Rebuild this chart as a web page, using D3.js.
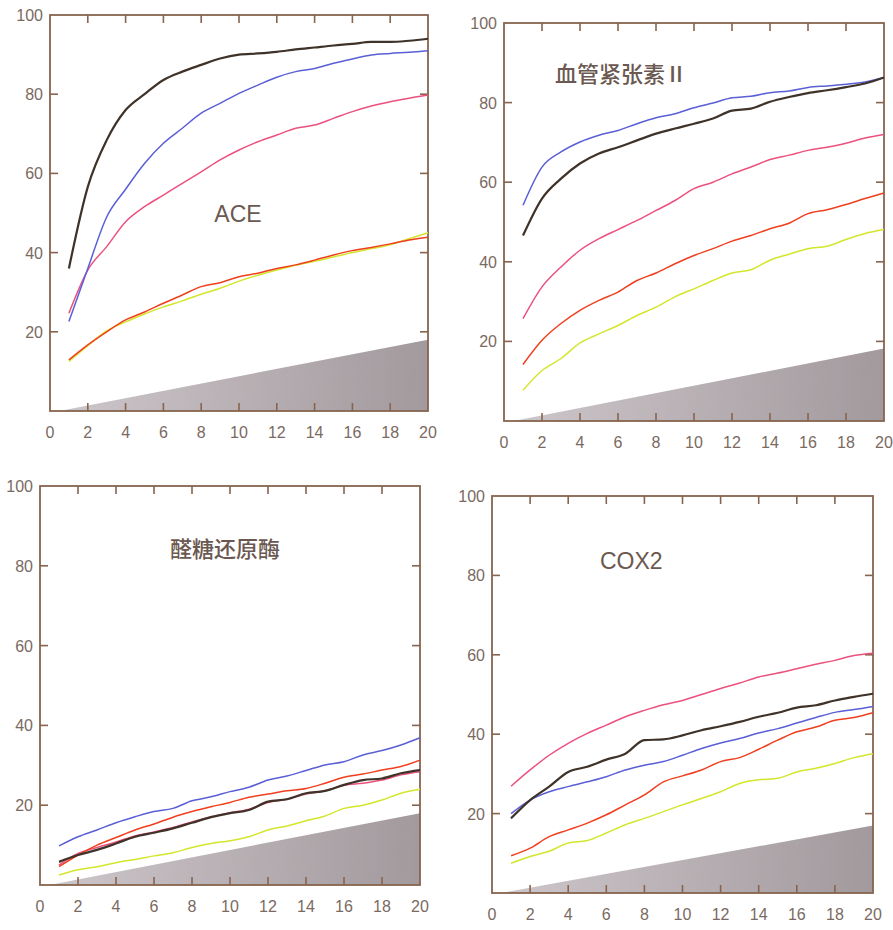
<!DOCTYPE html>
<html>
<head>
  <meta charset="utf-8">
  <script src="https://cdn.jsdelivr.net/npm/d3@7/dist/d3.min.js"></script>
  <style>
    body { margin: 0; background: #fff; }
    .tick-label { font-family: "Liberation Sans", Arial, sans-serif; font-size: 16px; fill: #7a6a62; }
    .panel-title { fill: #6b5850; }
  </style>
</head>
<body>
<script>
// x positions shared by every series
var days = [1,2,3,4,5,6,7,8,9,10,11,12,13,14,15,16,17,18,19,20];
var xTicks = [0,2,4,6,8,10,12,14,16,18,20];
var yTicks = [20,40,60,80,100];

// ACE
var aceBlack  = [36,56.6,68.4,76,80,83.6,85.7,87.4,89,90,90.3,90.7,91.3,91.8,92.3,92.7,93.2,93.2,93.5,94];
var aceBlue   = [22.6,36,49,56,62.5,67.6,71.4,75.2,77.7,80.2,82.3,84.3,85.7,86.5,87.8,88.9,89.9,90.3,90.6,91];
var acePink   = [24.7,35.6,41.5,47.8,51.6,54.5,57.5,60.4,63.4,65.9,68,69.7,71.4,72.2,73.9,75.6,77,78.1,79,79.8];
var aceRed    = [12.9,16.7,20,23,25,27.2,29.3,31.4,32.4,33.9,34.8,36,36.9,38.1,39.4,40.5,41.3,42.2,43.2,43.9];
var aceYellow = [12.5,16.5,20.2,22.5,24.5,26.3,27.8,29.5,31,32.8,34.3,35.6,36.8,37.8,38.9,40,41,42,43.5,45];

// 血管紧张素II
var angBlue   = [54.2,63.8,67.6,70.1,71.8,73,74.7,76.2,77.2,78.7,79.9,81.2,81.6,82.5,82.9,83.8,84.2,84.6,85.2,86.3];
var angBlack  = [46.6,55.9,60.9,64.7,67.2,68.8,70.5,72.2,73.5,74.7,76,78,78.5,80.2,81.4,82.4,83.1,83.9,84.8,86.3];
var angPink   = [25.7,33.7,38.7,42.9,45.8,48.1,50.4,52.9,55.4,58.4,60,62.1,63.8,65.7,66.8,68,68.8,69.8,71.1,72];
var angRed    = [14.2,20.3,24.5,27.8,30.3,32.4,35.3,37.2,39.5,41.6,43.3,45.2,46.6,48.3,49.7,52.1,53.1,54.4,55.9,57.3];
var angYellow = [7.7,12.7,15.7,19.6,21.9,24,26.5,28.6,31.2,33.2,35.3,37.2,38,40.4,41.9,43.3,43.9,45.6,47.1,48.1];

// 醛糖还原酶
var arBlue   = [9.8,12.1,13.8,15.6,17.1,18.4,19.2,21.1,22.1,23.4,24.5,26.3,27.3,28.7,30.1,30.9,32.6,33.7,35.1,36.9];
var arRed    = [4.6,7.5,10,11.9,13.8,15.3,17,18.4,19.6,20.7,22,22.8,23.6,24.2,25.5,27,27.8,28.8,29.7,31.3];
var arPink   = [5,7.9,9.4,10.8,12.3,13.3,14.4,15.8,17.1,18.1,19,20.7,21.5,22.8,23.6,25,25.5,26.3,27.6,28.4];
var arBlack  = [5.8,7.5,8.8,10.4,12.1,13.1,14.2,15.6,17,18,18.8,20.9,21.5,23,23.6,25.1,26.3,26.7,28,28.8];
var arYellow = [2.5,3.8,4.6,5.6,6.4,7.3,8.1,9.4,10.4,11.1,12.1,13.8,14.8,16.1,17.3,19.2,20,21.3,23,24];

// COX2
var coxPink   = [26.9,31,34.7,37.7,40.2,42.3,44.4,46,47.4,48.5,50,51.5,52.9,54.4,55.4,56.5,57.6,58.6,59.8,60.4];
var coxBlack  = [18.8,23.4,26.8,30.5,31.8,33.6,35.1,38.5,38.7,39.7,41,42,43.1,44.4,45.4,46.7,47.3,48.5,49.4,50.2];
var coxBlue   = [20,23.4,25.5,26.8,28,29.3,31,32.2,33.1,34.7,36.4,37.8,38.9,40.3,41.4,42.8,44.2,45.5,46.2,47];
var coxRed    = [9.4,11.3,14.2,15.9,17.6,19.7,22.2,24.7,28,29.5,31,33.1,34.1,36.2,38.5,40.6,41.8,43.5,44.2,45.4];
var coxYellow = [7.5,9.2,10.5,12.6,13.2,15.1,17.2,18.8,20.5,22.2,23.8,25.5,27.6,28.5,28.9,30.5,31.4,32.6,34.1,35.1];

// grey wedge: [x, y] corners of the sloping top edge
var aceWedge = [[0.5,0],[20,18]];
var angWedge = [[0.5,0],[20,18.2]];
var arWedge  = [[0.5,0],[20,18]];
var coxWedge = [[0.5,0],[20,17]];

var colors = { black: "#3f3229", blue: "#5a5fd6", pink: "#ec517e", red: "#f03f1e", yellow: "#d3e62c" };

var panels = [
  { title: "ACE", cjk: false, box: [50, 428, 15, 411], titleAt: [238, 222, "middle"], wedge: aceWedge,
    series: [["yellow", aceYellow], ["red", aceRed], ["pink", acePink], ["blue", aceBlue], ["black", aceBlack]] },
  { title: "血管紧张素Ⅱ", cjk: true, box: [504, 884, 23, 421], titleAt: [555, 82, "start"], wedge: angWedge,
    series: [["yellow", angYellow], ["red", angRed], ["pink", angPink], ["blue", angBlue], ["black", angBlack]] },
  { title: "醛糖还原酶", cjk: true, box: [40, 420, 486, 885], titleAt: [170, 557, "start"], wedge: arWedge,
    series: [["yellow", arYellow], ["pink", arPink], ["red", arRed], ["black", arBlack], ["blue", arBlue]] },
  { title: "COX2", cjk: false, box: [492, 873, 496, 893], titleAt: [600, 569, "start"], wedge: coxWedge,
    series: [["yellow", coxYellow], ["red", coxRed], ["blue", coxBlue], ["black", coxBlack], ["pink", coxPink]] }
];

var svg = d3.select("body").append("svg").attr("width", 893).attr("height", 930);

var defs = svg.append("defs");
var grad = defs.append("linearGradient").attr("id", "wedgeFill").attr("x1", 0).attr("x2", 1).attr("y1", 0).attr("y2", 0);
grad.append("stop").attr("offset", "0%").attr("stop-color", "#d2cbcf");
grad.append("stop").attr("offset", "100%").attr("stop-color", "#a39a9e");

// grainy look of the printed grey
var grain = defs.append("filter").attr("id", "grain").attr("x", 0).attr("y", 0).attr("width", 1).attr("height", 1);
grain.append("feTurbulence").attr("type", "fractalNoise").attr("baseFrequency", 0.9).attr("numOctaves", 2).attr("result", "noise");
grain.append("feColorMatrix").attr("in", "noise").attr("type", "matrix")
  .attr("values", "0 0 0 0 0.35  0 0 0 0 0.32  0 0 0 0 0.33  0 0 0 0.22 0").attr("result", "dots");
grain.append("feComposite").attr("in", "dots").attr("in2", "SourceGraphic").attr("operator", "in").attr("result", "dotsIn");
var merge = grain.append("feMerge");
merge.append("feMergeNode").attr("in", "SourceGraphic");
merge.append("feMergeNode").attr("in", "dotsIn");

var axisColor = "#87644f";

panels.forEach(function (p) {
  var x = d3.scaleLinear().domain([0, 20]).range([p.box[0], p.box[1]]);
  var y = d3.scaleLinear().domain([0, 100]).range([p.box[3], p.box[2]]);
  var g = svg.append("g");

  // wedge
  var w = p.wedge;
  var wedgePts = [[w[0][0], w[0][1]], [w[1][0], w[1][1]], [w[1][0], 0]];
  g.append("path")
    .attr("d", d3.line().x(function (d) { return x(d[0]); }).y(function (d) { return y(d[1]); })(wedgePts) + "Z")
    .attr("fill", "url(#wedgeFill)")
    .attr("filter", "url(#grain)");

  // frame
  g.append("rect")
    .attr("x", x(0)).attr("y", y(100))
    .attr("width", x(20) - x(0)).attr("height", y(0) - y(100))
    .attr("fill", "none").attr("stroke", axisColor).attr("stroke-width", 1.8);

  // inward ticks on all four sides
  var tk = 8;
  xTicks.slice(1, -1).forEach(function (t) {
    g.append("line").attr("x1", x(t)).attr("x2", x(t)).attr("y1", y(0)).attr("y2", y(0) - tk)
      .attr("stroke", axisColor).attr("stroke-width", 1.6);
    g.append("line").attr("x1", x(t)).attr("x2", x(t)).attr("y1", y(100)).attr("y2", y(100) + tk)
      .attr("stroke", axisColor).attr("stroke-width", 1.6);
  });
  yTicks.slice(0, -1).forEach(function (t) {
    g.append("line").attr("x1", x(0)).attr("x2", x(0) + tk).attr("y1", y(t)).attr("y2", y(t))
      .attr("stroke", axisColor).attr("stroke-width", 1.6);
    g.append("line").attr("x1", x(20)).attr("x2", x(20) - tk).attr("y1", y(t)).attr("y2", y(t))
      .attr("stroke", axisColor).attr("stroke-width", 1.6);
  });

  // tick labels
  g.selectAll(".xl").data(xTicks).enter().append("text")
    .attr("class", "tick-label")
    .attr("x", function (d) { return x(d); })
    .attr("y", y(0) + 27)
    .attr("text-anchor", "middle")
    .text(function (d) { return d; });
  g.selectAll(".yl").data(yTicks).enter().append("text")
    .attr("class", "tick-label")
    .attr("x", x(0) - 7)
    .attr("y", function (d) { return y(d) + 6; })
    .attr("text-anchor", "end")
    .text(function (d) { return d; });

  // series
  var line = d3.line().curve(d3.curveMonotoneX)
    .x(function (d, i) { return x(days[i]); }).y(function (d) { return y(d); });
  p.series.forEach(function (s) {
    g.append("path")
      .attr("d", line(s[1]))
      .attr("fill", "none")
      .attr("stroke", colors[s[0]])
      .attr("stroke-width", s[0] === "black" ? 2.2 : 1.5)
      .attr("stroke-linejoin", "round");
  });

  // title
  g.append("text")
    .attr("class", "panel-title")
    .attr("x", p.titleAt[0]).attr("y", p.titleAt[1])
    .attr("text-anchor", p.titleAt[2])
    .style("font-family", p.cjk ? "'Noto Sans CJK SC', sans-serif" : "'Liberation Sans', Arial, sans-serif")
    .style("font-size", p.cjk ? "22px" : "23px")
    .style("font-weight", p.cjk ? 500 : 400)
    .text(p.title);
});
</script>
</body>
</html>
